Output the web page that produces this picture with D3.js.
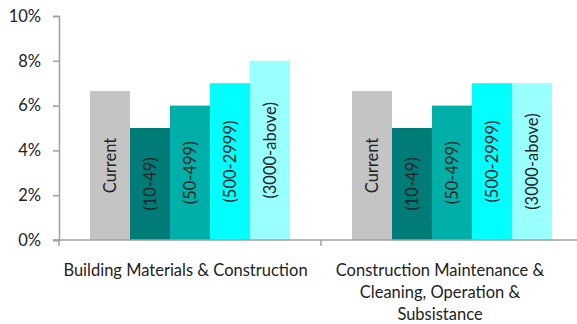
<!DOCTYPE html>
<html>
<head>
<meta charset="utf-8">
<script src="https://cdn.jsdelivr.net/npm/d3@7"></script>
<style>
  html, body { margin: 0; padding: 0; background: #fff; }
  svg text { font-family: Lato, "Open Sans", sans-serif; fill: #222; }
</style>
</head>
<body>
<svg id="chart" width="577" height="324"></svg>
<script>
// Sectors along the x axis (each label split into lines)
const sectors = ["Building Materials & Construction", "Construction Maintenance & Cleaning, Operation & Subsistance"];
const sectorLines = [
  ["Building Materials & Construction"],
  ["Construction Maintenance  &", "Cleaning, Operation &", "Subsistance"]
];
// Company size groups, drawn as bars in each sector
const groups = ["Current", "(10-49)", "(50-499)", "(500-2999)", "(3000-above)"];
const groupColors = ["#c4c4c4", "#007c78", "#00b0a8", "#00ffff", "#99ffff"];
// Rates (%) per sector, one value per group
const buildingValues = [6.65, 5, 6, 7, 8];
const maintenanceValues = [6.65, 5, 6, 7, 7];
const yTicks = [0, 2, 4, 6, 8, 10];

const seriesBySector = [buildingValues, maintenanceValues];

const svg = d3.select("#chart");
const plotLeft = 59, plotRight = 583, plotTop = 16, plotBottom = 240;
const fontSize = 16.5;

const x0 = d3.scaleBand().domain(sectors).range([plotLeft, plotRight]);
// bars fill the middle of each sector band, gap of ~31px on both sides
const groupInset = 31;
const x1 = d3.scaleBand().domain(groups).range([groupInset, x0.bandwidth() - groupInset]);
const y = d3.scaleLinear().domain([0, 10]).range([plotBottom, plotTop]);

// Y axis
const yAxis = svg.append("g")
  .attr("transform", `translate(${plotLeft},0)`)
  .call(d3.axisLeft(y).tickValues(yTicks).tickFormat(d => d + "%").tickSize(6).tickPadding(12));
yAxis.select(".domain").attr("stroke", "#a0a0a0").attr("stroke-width", 1.5);
yAxis.selectAll(".tick line").attr("stroke", "#a0a0a0").attr("stroke-width", 1.5);
yAxis.selectAll(".tick text").attr("font-size", fontSize).attr("fill", "#222")
  .style("font-family", "Lato, 'Open Sans', sans-serif");

// Bars
const sectorG = svg.selectAll("g.sector")
  .data(sectors)
  .join("g")
  .attr("class", "sector")
  .attr("transform", d => `translate(${x0(d)},0)`);

sectorG.each(function(s, si) {
  const g = d3.select(this);
  const vals = seriesBySector[si];
  const bars = g.selectAll("g.bar")
    .data(groups.map((grp, i) => ({ grp, i, v: vals[i] })))
    .join("g").attr("class", "bar");
  bars.append("rect")
    .attr("x", d => x1(d.grp))
    .attr("width", x1.bandwidth())
    .attr("y", d => y(d.v))
    .attr("height", d => y(0) - y(d.v))
    .attr("fill", d => groupColors[d.i]);
  bars.append("text")
    .attr("transform", d => `translate(${x1(d.grp) + x1.bandwidth() / 2},${(y(d.v) + y(0)) / 2}) rotate(-90)`)
    .attr("text-anchor", "middle")
    .attr("dominant-baseline", "central")
    .attr("font-size", fontSize)
    .text(d => d.grp);
});

// X axis baseline with category separators
const xAxis = svg.append("g").attr("transform", `translate(0,${plotBottom})`);
xAxis.append("line").attr("x1", plotLeft - 6).attr("x2", 577).attr("y1", 0).attr("y2", 0)
  .attr("stroke", "#a0a0a0").attr("stroke-width", 1.5);
xAxis.selectAll("line.sep")
  .data([plotLeft, x0(sectors[1])])
  .join("line").attr("class", "sep")
  .attr("x1", d => d).attr("x2", d => d).attr("y1", 0).attr("y2", 6)
  .attr("stroke", "#a0a0a0").attr("stroke-width", 1.5);

// Category labels
const labelX = [185.5, 440];
sectorLines.forEach((lines, si) => {
  const t = svg.append("text")
    .attr("text-anchor", "middle")
    .attr("font-size", fontSize);
  lines.forEach((ln, li) => {
    t.append("tspan").attr("x", labelX[si]).attr("y", 276 + li * 22).text(ln);
  });
});
</script>
</body>
</html>
